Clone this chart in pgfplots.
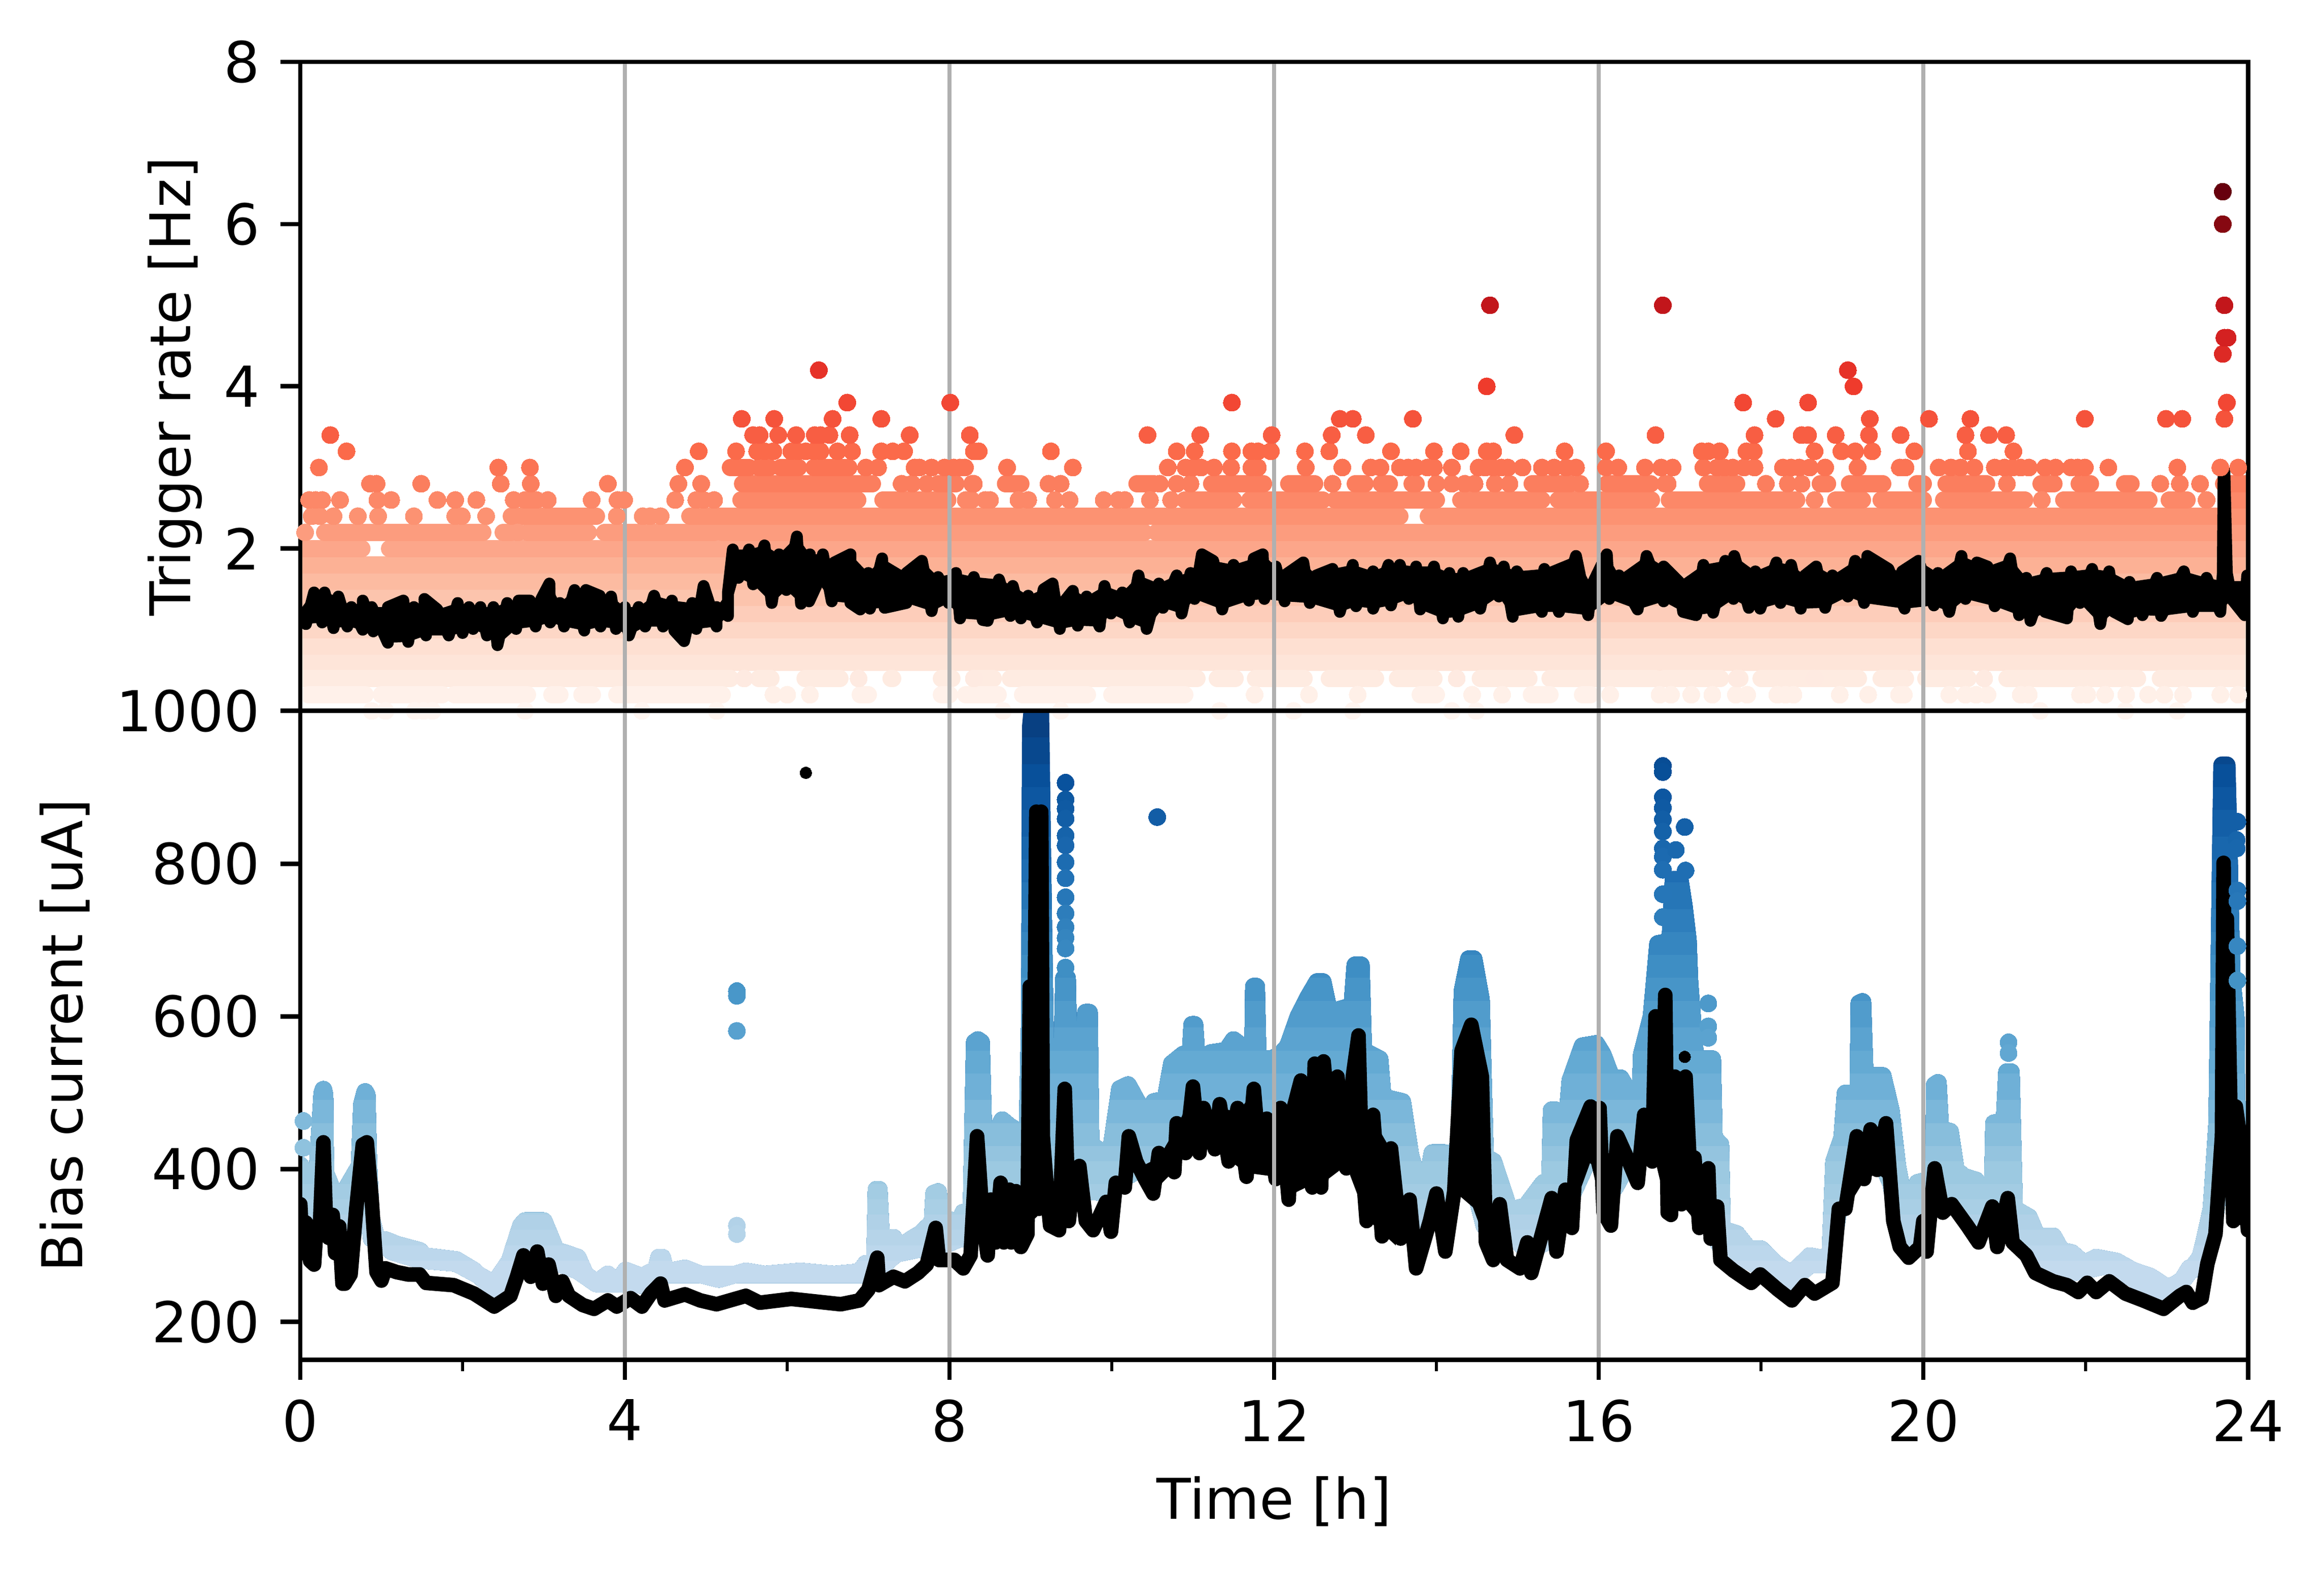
\documentclass[border=0pt]{standalone}
\usepackage{fontspec}
\setmainfont{DejaVu Sans}
\usepackage{pgfplots}
\usepackage{pgfplotstable}
\pgfplotsset{compat=1.18}
\definecolor{gridc}{HTML}{B0B0B0}
\definecolor{r00}{HTML}{FFF5F0}\definecolor{r02}{HTML}{FFF1EA}\definecolor{r04}{HTML}{FEEBE1}
\definecolor{r06}{HTML}{FEE5D9}\definecolor{r08}{HTML}{FEE0D2}\definecolor{r10}{HTML}{FDD7C6}
\definecolor{r12}{HTML}{FDCDBA}\definecolor{r14}{HTML}{FCC4AD}\definecolor{r16}{HTML}{FCBBA1}
\definecolor{r18}{HTML}{FCB195}\definecolor{r20}{HTML}{FCA68A}\definecolor{r22}{HTML}{FC9C7E}
\definecolor{r24}{HTML}{FC9272}\definecolor{r26}{HTML}{FC8868}\definecolor{r28}{HTML}{FB7E5E}
\definecolor{r30}{HTML}{FB7454}
\pgfplotsset{
  colormap={MyReds}{rgb255=(255,245,240) rgb255=(254,224,210) rgb255=(252,187,161) rgb255=(252,146,114) rgb255=(251,106,74) rgb255=(239,59,44) rgb255=(203,24,29) rgb255=(165,15,21) rgb255=(103,0,13)},
  colormap={MyBlues}{rgb255=(247,251,255) rgb255=(222,235,247) rgb255=(198,219,239) rgb255=(158,202,225) rgb255=(107,174,214) rgb255=(66,146,198) rgb255=(33,113,181) rgb255=(8,81,156) rgb255=(8,48,107)},
  panel/.style={
    scale only axis, width=346.9pt, height=115.63pt,
    xmin=0, xmax=24, axis on top, clip=true,
    xtick={0,4,8,12,16,20,24},
    xmajorgrids, grid style={color=gridc, line width=0.8bp},
    axis line style={line width=0.8bp},
    tick align=outside, tick pos=left,
    major tick length=3.5bp, minor tick length=2bp,
    every tick/.style={black, line width=0.8bp},
    minor tick style={black, line width=0.6bp},
    tick label style={font=\fontsize{10.04}{12}\selectfont},
    label style={font=\fontsize{10.04}{12}\selectfont},
    /pgf/number format/assume math mode=true,
    /pgf/number format/1000 sep={},
    yticklabel style={inner sep=0pt, xshift=-3.5bp},
    unbounded coords=jump,
  },
  dots/.style={scatter, only marks, mark=*, mark size=1.53pt, point meta=y,
    mark options={line width=0pt},
    scatter/use mapped color={draw=mapped color, fill=mapped color}},
}
\newcommand\seg[4]{\addplot[color=#1, line width=3.06pt, line cap=round] coordinates {(#3,#2)(#4,#2)};}
\newcommand\bluelayer[4]{\definecolor{b#1}{RGB}{#2,#3,#4}%
  \addplot[fill=b#1, draw=b#1, line width=3.06pt, line join=round,
    execute at begin plot visualization={\clip (axis cs:-1,100) rectangle (axis cs:25,#1);}]
    table[x index=0, y index=1] {\bluepoly} --cycle;}
\pgfplotstableread{
h v
0 405
0.13 376
0.2 380
0.27 499
0.285 504
0.30 497
0.31 395
0.39 374
0.50 362
0.73 404
0.76 485
0.80 501
0.82 497
0.84 410
0.88 309
1.05 307
1.19 301
1.47 293
1.53 286
1.92 281
2.14 267
2.39 242
2.56 273
2.72 326
2.77 332
2.98 332
3.0 332
3.09 309
3.15 293
3.26 290
3.42 284
3.51 262
3.65 251
3.79 262
3.9 251
4.01 267
4.21 259
4.32 265
4.38 265
4.42 284
4.46 284
4.5 265
4.74 270
4.93 262
5.16 256
5.49 266
5.72 262
6.16 266
6.58 262
6.89 265
6.97 276
7.08 276
7.1 373
7.13 373
7.16 307
7.31 310
7.4 298
7.53 308
7.64 315
7.72 323
7.79 330
7.81 368
7.86 370
7.9 337
8.12 329
8.17 343
8.27 345
8.31 566
8.35 569
8.39 566
8.42 441
8.54 441
8.65 464
8.74 456
8.85 449
8.96 449
8.99 600
9.0 980
9.03 1015
9.12 1015
9.14 850
9.16 700
9.18 560
9.22 505
9.3 505
9.38 510
9.41 650
9.45 650
9.47 545
9.56 544
9.65 544
9.68 605
9.72 605
9.74 432
9.85 424
9.95 424
10.0 432
10.1 505
10.2 510
10.33 485
10.46 474
10.52 488
10.66 491
10.74 538
10.88 550
10.97 552
10.99 589
11.02 589
11.05 541
11.22 552
11.41 555
11.5 569
11.6 561
11.74 561
11.75 639
11.78 639
11.8 544
11.97 544
12.08 550
12.17 561
12.3 600
12.42 625
12.53 645
12.6 645
12.68 605
12.88 611
12.96 611
13.0 667
13.07 667
13.1 555
13.3 544
13.34 494
13.58 488
13.68 418
13.78 382
13.88 379
13.95 421
14.1 421
14.16 379
14.2 421
14.28 420
14.32 633
14.4 675
14.46 675
14.55 622
14.6 416
14.7 410
14.9 346
15.1 351
15.32 382
15.4 385
15.42 477
15.47 477
15.52 438
15.58 430
15.65 516
15.8 561
15.97 564
16.05 550
16.16 519
16.27 519
16.38 499
16.5 455
16.53 550
16.65 600
16.73 695
16.88 698
16.92 779
17.0 779
17.05 745
17.1 700
17.12 644
17.2 533
17.27 522
17.3 544
17.4 544
17.42 441
17.5 432
17.52 321
17.7 315
17.85 295
18.0 295
18.18 276
18.37 262
18.6 286
18.85 281
18.9 410
19.0 441
19.04 499
19.2 499
19.21 617
19.25 619
19.28 522
19.5 522
19.6 477
19.68 404
19.75 365
19.85 349
19.93 382
20.04 385
20.13 388
20.14 510
20.18 513
20.21 452
20.33 449
20.4 399
20.5 390
20.65 385
20.68 360
20.8 354
20.85 354
20.87 460
21.0 463
21.03 527
21.08 527
21.12 348
21.3 337
21.4 312
21.6 312
21.7 293
21.83 290
21.98 276
22.13 284
22.38 279
22.58 267
22.8 259
23.0 245
23.17 251
23.28 270
23.38 270
23.47 309
23.55 348
23.62 460
23.65 700
23.68 929
23.74 929
23.77 800
23.8 650
23.85 600
23.86 480
24 477
24 343
23.93 370
23.74 450
23.6 343
23.43 287
23.21 256
22.96 239
22.71 248
22.32 275
21.82 264
21.54 275
21.27 292
21.04 343
20.71 331
20.43 354
20.16 382
19.99 315
19.82 309
19.71 320
19.6 382
19.43 421
19.16 415
18.99 370
18.85 275
18.6 275
18.38 253
18.21 264
17.93 275
17.71 287
17.54 292
17.38 320
17.21 382
16.99 382
16.82 454
16.6 426
16.46 426
16.2 376
15.98 438
15.64 359
15.42 309
15.14 292
14.89 315
14.59 326
14.31 443
13.81 309
13.53 348
13.19 370
12.92 426
12.08 421
11.63 432
11.24 454
10.74 421
10.52 393
10.41 404
9.85 370
9.18 376
8.74 343
8.46 326
8.21 309
8.12 309
7.89 298
7.61 295
7.34 289
7.06 262
6.89 262
6.16 262
5.49 262
4.82 262
4.49 262
4.21 248
3.9 250
3.65 250
3.42 267
3.15 278
2.92 292
2.7 298
2.39 250
1.92 277
1.47 281
1.13 292
0.94 309
0.8 365
0.6 298
0.46 320
0.3 354
0.13 309
0 320
}\bluepoly
\begin{document}
\begin{tikzpicture}
\path[use as bounding box] (-53.48pt,-37.58pt) rectangle (360.45pt,242.28pt);
% ---------------- upper panel
\begin{axis}[panel, at={(0pt,115.63pt)}, anchor=south west,
  ymin=0, ymax=8, ytick={2,4,6,8}, xticklabels={}, 
  xtick style={draw=none},
  ylabel={Trigger rate [Hz]},
  every axis y label/.style={at={(axis description cs:-0.0643,0.5)}, rotate=90, anchor=center},
  colormap name=MyReds, point meta min=0, point meta max=6.4]
\seg{r06}{0.6}{0}{24}
\seg{r08}{0.8}{0}{24}
\seg{r10}{1.0}{0}{24}
\seg{r12}{1.2}{0}{24}
\seg{r14}{1.4}{0}{24}
\seg{r16}{1.6}{0}{24}
\seg{r18}{1.8}{0}{24}
\seg{r20}{2.0}{0}{0.76}\seg{r20}{2.0}{1.1}{24}
\seg{r22}{2.2}{0.3}{2.25}\seg{r22}{2.2}{2.5}{2.6}\seg{r22}{2.2}{2.8}{3.55}\seg{r22}{2.2}{3.75}{5.1}\seg{r22}{2.2}{5.2}{10.4}\seg{r22}{2.2}{10.55}{24}
\seg{r24}{2.4}{2.6}{3.65}\seg{r24}{2.4}{4.8}{13.55}\seg{r24}{2.4}{13.9}{24}
\seg{r26}{2.6}{5.43}{6.87}\seg{r26}{2.6}{7.18}{7.98}\seg{r26}{2.6}{10.9}{11.5}\seg{r26}{2.6}{11.7}{12.6}\seg{r26}{2.6}{12.75}{14.0}\seg{r26}{2.6}{14.3}{15.3}\seg{r26}{2.6}{15.5}{16.65}\seg{r26}{2.6}{16.87}{18.44}\seg{r26}{2.6}{18.92}{19.25}\seg{r26}{2.6}{19.48}{20.0}\seg{r26}{2.6}{20.25}{21.25}\seg{r26}{2.6}{21.73}{22.78}\seg{r26}{2.6}{23.03}{23.25}\seg{r26}{2.6}{23.75}{24}
\seg{r28}{2.8}{5.45}{7.05}\seg{r28}{2.8}{7.86}{8.08}\seg{r28}{2.8}{8.69}{8.88}\seg{r28}{2.8}{10.31}{10.52}\seg{r28}{2.8}{11.23}{11.87}\seg{r28}{2.8}{12.18}{12.5}\seg{r28}{2.8}{13.0}{13.12}\seg{r28}{2.8}{13.32}{13.42}\seg{r28}{2.8}{13.7}{13.75}\seg{r28}{2.8}{15.18}{15.65}\seg{r28}{2.8}{16.1}{16.64}\seg{r28}{2.8}{17.34}{17.7}\seg{r28}{2.8}{18.73}{18.82}\seg{r28}{2.8}{19.09}{19.5}\seg{r28}{2.8}{19.92}{20.0}\seg{r28}{2.8}{20.28}{20.78}\seg{r28}{2.8}{21.45}{21.61}\seg{r28}{2.8}{21.92}{22.06}\seg{r28}{2.8}{22.48}{22.56}\seg{r28}{2.8}{23.7}{24}
\seg{r30}{3.0}{5.3}{5.53}\seg{r30}{3.0}{5.65}{5.78}\seg{r30}{3.0}{5.92}{6.14}\seg{r30}{3.0}{6.33}{6.76}
\seg{r04}{0.4}{0}{5.3}\seg{r04}{0.4}{5.65}{5.8}\seg{r04}{0.4}{6.22}{6.65}\seg{r04}{0.4}{7.28}{7.3}\seg{r04}{0.4}{7.9}{8.03}\seg{r04}{0.4}{8.3}{8.54}\seg{r04}{0.4}{8.75}{11.05}\seg{r04}{0.4}{11.3}{11.52}\seg{r04}{0.4}{11.77}{12.37}\seg{r04}{0.4}{12.68}{13.25}\seg{r04}{0.4}{13.52}{13.97}\seg{r04}{0.4}{14.54}{15.14}\seg{r04}{0.4}{15.4}{16.7}\seg{r04}{0.4}{16.81}{17.5}\seg{r04}{0.4}{17.7}{17.74}\seg{r04}{0.4}{18}{19.2}\seg{r04}{0.4}{19.48}{19.78}\seg{r04}{0.4}{20.03}{20.55}\seg{r04}{0.4}{21.03}{22.64}\seg{r04}{0.4}{22.92}{24}
\seg{r02}{0.2}{0.1}{0.8}\seg{r02}{0.2}{1.0}{1.75}\seg{r02}{0.2}{1.9}{2.8}\seg{r02}{0.2}{3.1}{3.2}\seg{r02}{0.2}{3.47}{3.6}\seg{r02}{0.2}{3.9}{5.2}\seg{r02}{0.2}{6.9}{7.0}\seg{r02}{0.2}{7.9}{8.0}\seg{r02}{0.2}{8.2}{8.6}\seg{r02}{0.2}{8.9}{9.7}\seg{r02}{0.2}{10.0}{10.9}\seg{r02}{0.2}{13.8}{14.0}\seg{r02}{0.2}{15.17}{15.4}\seg{r02}{0.2}{15.8}{15.9}
\addplot[dots] coordinates {
(0.88,0)(1.05,0)(1.41,0)(1.52,0)(1.63,0)(2.77,0)(4.21,0)(5.13,0)(8.66,0)(9.37,0)(11.33,0)(12.24,0)(12.97,0)(14.19,0)(14.49,0)(21.44,0)(22.49,0)(23.13,0)
(5.83,0.2)(6.0,0.2)(6.28,0.2)(11.76,0.2)(12.43,0.2)(13.03,0.2)(14.44,0.2)(14.81,0.2)(16.14,0.2)(16.75,0.2)(16.89,0.2)(17.14,0.2)(17.4,0.2)(17.69,0.2)(17.83,0.2)(18.2,0.2)(18.3,0.2)(18.4,0.2)(18.97,0.2)(19.32,0.2)(19.7,0.2)(19.76,0.2)(20.32,0.2)(20.52,0.2)(20.65,0.2)(20.79,0.2)(21.2,0.2)(21.3,0.2)(21.93,0.2)(22.02,0.2)(22.24,0.2)(22.5,0.2)(22.77,0.2)(22.97,0.2)(23.2,0.2)(23.66,0.2)(23.88,0.2)
(5.47,0.4)(6.88,0.4)(8.3,0.4)(14.25,0.4)(17.7,0.4)(18.66,0.4)(20.75,0.4)
(0.06,2.2)(2.68,2.2)
(0.14,2.4)(0.24,2.4)(0.41,2.4)(0.71,2.4)(0.96,2.4)(1.4,2.4)(1.91,2.4)(1.99,2.4)(2.29,2.4)(3.9,2.4)(4.22,2.4)(4.31,2.4)(4.44,2.4)
(0.11,2.6)(0.19,2.6)(0.27,2.6)(0.49,2.6)(0.95,2.6)(1.12,2.6)(1.69,2.6)(1.91,2.6)(2.17,2.6)(2.63,2.6)(2.77,2.6)(2.84,2.6)(2.91,2.6)(3.05,2.6)(3.59,2.6)(3.91,2.6)(3.99,2.6)(4.62,2.6)(4.88,2.6)(4.97,2.6)(5.1,2.6)(8.2,2.6)(8.27,2.6)(8.44,2.6)(8.5,2.6)(8.85,2.6)(8.97,2.6)(9.3,2.6)(9.48,2.6)(9.9,2.6)(10.08,2.6)(10.16,2.6)(10.47,2.6)(10.73,2.6)(18.66,2.6)(21.46,2.6)(23.49,2.6)
(0.86,2.8)(0.94,2.8)(1.49,2.8)(2.47,2.8)(2.84,2.8)(3.79,2.8)(4.66,2.8)(4.94,2.8)(7.41,2.8)(7.54,2.8)(7.72,2.8)(8.28,2.8)(8.3,2.8)(9.22,2.8)(9.37,2.8)(10.59,2.8)(10.8,2.8)(10.97,2.8)(12.72,2.8)(14.0,2.8)(14.19,2.8)(14.35,2.8)(14.47,2.8)(14.72,2.8)(14.9,2.8)(15.77,2.8)(16.82,2.8)(16.85,2.8)(18.06,2.8)(18.33,2.8)(18.5,2.8)(21.03,2.8)(22.92,2.8)(23.16,2.8)(23.41,2.8)
(0.23,3.0)(2.44,3.0)(2.83,3.0)(4.74,3.0)(6.97,3.0)(7.12,3.0)(7.57,3.0)(7.63,3.0)(7.78,3.0)(7.94,3.0)(8.05,3.0)(8.13,3.0)(8.19,3.0)(8.71,3.0)(9.52,3.0)(10.69,3.0)(10.91,3.0)(11.0,3.0)(11.1,3.0)(11.26,3.0)(11.47,3.0)(11.72,3.0)(11.8,3.0)(12.39,3.0)(12.84,3.0)(13.19,3.0)(13.31,3.0)(13.55,3.0)(13.65,3.0)(13.75,3.0)(13.89,3.0)(13.97,3.0)(14.19,3.0)(14.52,3.0)(14.6,3.0)(14.7,3.0)(14.8,3.0)(14.88,3.0)(15.06,3.0)(15.3,3.0)(15.45,3.0)(15.6,3.0)(15.72,3.0)(16.09,3.0)(16.24,3.0)(16.57,3.0)(16.77,3.0)(16.91,3.0)(17.29,3.0)(17.46,3.0)(17.55,3.0)(17.65,3.0)(17.79,3.0)(17.92,3.0)(18.27,3.0)(18.37,3.0)(18.47,3.0)(18.6,3.0)(18.79,3.0)(19.19,3.0)(19.71,3.0)(19.78,3.0)(20.19,3.0)(20.34,3.0)(20.46,3.0)(20.63,3.0)(20.88,3.0)(21,3.0)(21.1,3.0)(21.2,3.0)(21.3,3.0)(21.5,3.0)(21.63,3.0)(21.82,3.0)(21.9,3.0)(21.99,3.0)(22.28,3.0)(23.13,3.0)(23.66,3.0)(23.88,3.0)
(0.57,3.2)(4.91,3.2)(5.37,3.2)(5.63,3.2)(5.72,3.2)(5.83,3.2)(6.05,3.2)(6.13,3.2)(6.23,3.2)(6.33,3.2)(6.41,3.2)(6.62,3.2)(6.8,3.2)(7.16,3.2)(7.3,3.2)(7.44,3.2)(8.3,3.2)(8.36,3.2)(9.25,3.2)(10.8,3.2)(11.02,3.2)(11.48,3.2)(11.72,3.2)(11.8,3.2)(11.96,3.2)(12.38,3.2)(12.68,3.2)(13.44,3.2)(13.97,3.2)(14.3,3.2)(14.62,3.2)(14.7,3.2)(15.58,3.2)(16.09,3.2)(17.27,3.2)(17.35,3.2)(17.49,3.2)(17.82,3.2)(17.91,3.2)(18.66,3.2)(18.99,3.2)(19.16,3.2)(19.37,3.2)(19.89,3.2)(20.55,3.2)(21.11,3.2)
(0.37,3.4)(5.58,3.4)(5.66,3.4)(5.89,3.4)(6.11,3.4)(6.34,3.4)(6.41,3.4)(6.52,3.4)(6.77,3.4)(7.51,3.4)(8.25,3.4)(10.44,3.4)(11.09,3.4)(11.97,3.4)(12.71,3.4)(13.13,3.4)(14.96,3.4)(16.7,3.4)(17.92,3.4)(18.5,3.4)(18.58,3.4)(18.92,3.4)(19.33,3.4)(19.72,3.4)(20.52,3.4)(20.81,3.4)(21.02,3.4)
(5.44,3.6)(5.84,3.6)(6.56,3.6)(7.16,3.6)(12.81,3.6)(12.97,3.6)(13.71,3.6)(18.18,3.6)(19.34,3.6)(20.07,3.6)(20.58,3.6)(21.99,3.6)(22.99,3.6)(23.19,3.6)(23.71,3.6)
(6.74,3.8)(8.01,3.8)(11.48,3.8)(17.78,3.8)(18.58,3.8)(23.74,3.8)
(14.62,4.0)(19.14,4.0)(6.39,4.2)(19.07,4.2)(23.69,4.4)(23.71,4.6)(23.75,4.6)
(14.66,5.0)(16.79,5.0)(23.71,5.0)(23.69,6.0)(23.69,6.4)
};
% black: envelope fill, then the noisy trace
\addplot[fill=black, draw=none] coordinates {
(0,1.25)(.16,1.46)(.3,1.46)(.47,1.41)(.63,1.28)(.77,1.36)(.88,1.28)(1.08,1.28)(1.27,1.36)(1.4,1.28)(1.53,1.38)(1.69,1.25)(1.94,1.33)(2.08,1.28)(2.22,1.28)(2.38,1.28)(2.55,1.33)(2.69,1.36)(2.83,1.36)(2.97,1.38)(3.07,1.57)(3.2,1.33)(3.38,1.49)(3.52,1.49)(3.69,1.42)(3.83,1.41)(4.0,1.28)(4.17,1.28)(4.36,1.42)(4.58,1.36)(4.83,1.33)(4.97,1.54)(5.13,1.28)(5.27,1.46)(5.33,1.99)(5.53,1.99)(5.72,2.04)(5.9,1.93)(6.12,2.15)(6.28,1.93)(6.44,1.93)(6.58,1.83)(6.78,1.93)(7.0,1.7)(7.17,1.88)(7.47,1.7)(7.66,1.85)(7.86,1.65)(8.08,1.7)(8.3,1.65)(8.61,1.62)(8.78,1.54)(8.97,1.42)(9.16,1.5)(9.27,1.57)(9.4,1.33)(9.52,1.48)(9.69,1.41)(9.91,1.54)(10.13,1.46)(10.33,1.67)(10.58,1.57)(10.8,1.67)(10.97,1.7)(11.11,1.93)(11.25,1.85)(11.5,1.8)(11.75,1.88)(11.86,1.93)(12.02,1.78)(12.13,1.67)(12.36,1.83)(12.52,1.67)(12.72,1.75)(12.97,1.8)(13.22,1.72)(13.41,1.8)(13.55,1.8)(13.75,1.78)(13.97,1.78)(14.16,1.7)(14.33,1.7)(14.66,1.83)(14.83,1.78)(14.99,1.72)(15.33,1.75)(15.72,1.91)(15.91,1.54)(16.1,1.93)(16.25,1.67)(16.59,1.91)(16.8,1.78)(16.99,1.59)(17.29,1.8)(17.56,1.85)(17.67,1.91)(17.93,1.72)(18.19,1.83)(18.37,1.8)(18.54,1.67)(18.68,1.78)(18.88,1.67)(19.16,1.85)(19.31,1.91)(19.57,1.75)(19.74,1.72)(19.94,1.85)(20.18,1.7)(20.47,1.91)(20.66,1.83)(20.79,1.78)(21.07,1.88)(21.27,1.64)(21.52,1.7)(21.82,1.72)(22.08,1.75)(22.29,1.72)(22.54,1.59)(22.88,1.64)(23.21,1.72)(23.49,1.64)(23.68,1.6)(24,1.6)
(24,1.2)(23.96,1.18)(23.8,1.38)(23.66,1.22)(23.32,1.22)(22.93,1.17)(22.7,1.18)(22.52,1.13)(22.35,1.22)(22.18,1.07)(21.93,1.33)(21.77,1.14)(21.5,1.22)(21.32,1.11)(21.18,1.18)(20.88,1.29)(20.52,1.38)(20.32,1.22)(20.13,1.3)(19.77,1.26)(19.27,1.33)(19.07,1.41)(18.79,1.27)(18.49,1.26)(18.24,1.33)(17.99,1.26)(17.85,1.27)(17.66,1.38)(17.41,1.21)(17.2,1.18)(17.04,1.22)(16.8,1.35)(16.48,1.25)(16.13,1.38)(15.87,1.18)(15.51,1.22)(15.3,1.22)(14.94,1.16)(14.77,1.41)(14.54,1.26)(14.27,1.16)(14.08,1.14)(13.8,1.25)(13.66,1.38)(13.44,1.3)(13.22,1.26)(13.01,1.29)(12.81,1.22)(12.44,1.33)(12.13,1.35)(11.88,1.38)(11.69,1.36)(11.36,1.25)(11.02,1.38)(10.86,1.2)(10.63,1.27)(10.43,1.01)(10.22,1.09)(9.99,1.2)(9.85,1.04)(9.58,1.05)(9.36,1.01)(9.08,1.09)(8.88,1.14)(8.75,1.17)(8.47,1.11)(8.41,1.12)(8.13,1.14)(7.99,1.33)(7.78,1.23)(7.47,1.33)(7.2,1.27)(7.02,1.26)(6.9,1.25)(6.78,1.33)(6.55,1.35)(6.38,1.59)(6.27,1.35)(6.17,1.32)(5.99,1.49)(5.81,1.33)(5.58,1.56)(5.4,1.64)(5.27,1.17)(5.13,1.04)(4.88,1.01)(4.73,.86)(4.61,.99)(4.47,1.04)(4.25,1.04)(4.05,.93)(3.89,1.01)(3.7,1.04)(3.5,.99)(3.25,1.04)(3.08,1.09)(2.9,1.04)(2.66,1.01)(2.43,.81)(2.3,.93)(2.13,1.01)(2.0,.96)(1.83,.93)(1.55,.93)(1.33,.85)(1.08,.84)(.9,.98)(.77,1.0)(.58,1.04)(.41,1.02)(.27,1.09)(.07,1.07)(0,1.1)
} --cycle;
\addplot[black, line width=2.1pt, line cap=round, line join=round] coordinates {
(0,1.2)(0.07,1.07)(0.17,1.46)(0.27,1.09)(0.3,1.46)(0.41,1.02)(0.47,1.41)(0.58,1.04)(0.63,1.28)(0.77,1.0)(0.77,1.36)(0.9,0.98)(0.88,1.28)(1.08,0.84)(1.08,1.28)(1.27,1.36)(1.33,0.85)(1.4,1.28)(1.55,0.93)(1.53,1.38)(1.69,1.25)(1.83,0.93)(1.94,1.33)(2.0,0.96)(2.08,1.28)(2.13,1.01)(2.22,1.28)(2.3,0.93)(2.38,1.28)(2.43,0.81)(2.55,1.33)(2.66,1.01)(2.69,1.36)(2.83,1.36)(2.9,1.04)(2.97,1.38)(3.07,1.57)(3.08,1.09)(3.2,1.33)(3.25,1.04)(3.38,1.49)(3.5,0.99)(3.52,1.49)(3.69,1.42)(3.7,1.04)(3.83,1.41)(3.89,1.01)(4.0,1.28)(4.05,0.93)(4.17,1.28)(4.25,1.04)(4.36,1.42)(4.47,1.04)(4.58,1.36)(4.61,0.99)(4.73,0.86)(4.83,1.33)(4.88,1.01)(4.97,1.54)(5.13,1.04)(5.13,1.28)(5.27,1.17)(5.27,1.46)(5.33,1.99)(5.4,1.64)(5.53,1.99)(5.58,1.56)(5.72,2.04)(5.81,1.33)(5.9,1.93)(5.99,1.49)(6.12,2.15)(6.17,1.32)(6.28,1.93)(6.27,1.35)(6.38,1.59)(6.44,1.93)(6.55,1.35)(6.58,1.83)(6.78,1.93)(6.78,1.33)(6.9,1.25)(7.0,1.7)(7.02,1.26)(7.17,1.88)(7.2,1.27)(7.47,1.33)(7.47,1.7)(7.66,1.85)(7.78,1.23)(7.86,1.65)(7.99,1.33)(8.08,1.7)(8.13,1.14)(8.3,1.65)(8.41,1.12)
(8.47,1.11)(8.61,1.62)(8.75,1.17)(8.78,1.54)(8.88,1.14)(8.97,1.42)(9.08,1.09)(9.16,1.5)(9.27,1.57)(9.36,1.01)(9.4,1.33)(9.52,1.48)(9.58,1.05)(9.69,1.41)(9.85,1.04)(9.91,1.54)(9.99,1.2)(10.13,1.46)(10.22,1.09)(10.33,1.67)(10.43,1.01)(10.58,1.57)(10.63,1.27)(10.8,1.67)(10.86,1.2)(10.97,1.7)(11.02,1.38)(11.11,1.93)(11.25,1.85)(11.36,1.25)(11.5,1.8)(11.69,1.36)(11.75,1.88)(11.86,1.93)(11.88,1.38)(12.02,1.78)(12.13,1.35)(12.13,1.67)(12.36,1.83)(12.44,1.33)(12.52,1.67)(12.72,1.75)(12.81,1.22)(12.97,1.8)(13.01,1.29)(13.22,1.72)(13.22,1.26)(13.41,1.8)(13.44,1.3)(13.55,1.8)(13.66,1.38)(13.75,1.78)(13.8,1.25)(13.97,1.78)(14.08,1.14)(14.16,1.7)(14.27,1.16)(14.33,1.7)(14.54,1.26)(14.66,1.83)(14.77,1.41)(14.83,1.78)(14.94,1.16)(14.99,1.72)(15.3,1.22)(15.33,1.75)(15.51,1.22)(15.72,1.91)(15.87,1.18)(15.91,1.54)(16.1,1.93)(16.13,1.38)(16.25,1.67)(16.48,1.25)(16.59,1.91)(16.8,1.35)(16.8,1.78)
(16.99,1.59)(17.04,1.22)(17.2,1.18)(17.29,1.8)(17.41,1.21)(17.56,1.85)(17.66,1.38)(17.67,1.91)(17.85,1.27)(17.93,1.72)(17.99,1.26)(18.19,1.83)(18.24,1.33)(18.37,1.8)(18.49,1.26)(18.54,1.67)(18.68,1.78)(18.79,1.27)(18.88,1.67)(19.07,1.41)(19.16,1.85)(19.27,1.33)(19.31,1.91)(19.57,1.75)(19.77,1.26)(19.74,1.72)(19.94,1.85)(20.13,1.3)(20.18,1.7)(20.32,1.22)(20.47,1.91)(20.52,1.38)(20.66,1.83)(20.79,1.78)(20.88,1.29)(21.07,1.88)(21.18,1.18)(21.27,1.64)(21.32,1.11)(21.52,1.7)(21.5,1.22)(21.77,1.14)(21.82,1.72)(21.93,1.33)(22.08,1.75)(22.18,1.07)(22.29,1.72)(22.35,1.22)(22.52,1.13)(22.54,1.59)(22.7,1.18)(22.88,1.64)(22.93,1.17)(23.21,1.72)(23.32,1.22)(23.49,1.64)(23.66,1.22)(23.69,1.7)(23.7,2.96)(23.71,2.96)(23.74,1.7)(23.8,1.38)(23.96,1.18)(23.99,1.67)(24,1.2)};
\end{axis}
% ---------------- lower panel: blue layers in an axis of their own, since each layer clips
\begin{axis}[panel, hide axis, at={(0pt,0pt)}, anchor=south west,
  ymin=150, ymax=1000]
\bluelayer{1020}{8}{64}{130}
\bluelayer{965}{8}{72}{142}
\bluelayer{930}{8}{80}{154}
\bluelayer{900}{13}{87}{161}
\bluelayer{870}{19}{95}{167}
\bluelayer{835}{25}{103}{173}
\bluelayer{805}{31}{110}{179}
\bluelayer{775}{38}{118}{183}
\bluelayer{740}{46}{126}{188}
\bluelayer{710}{54}{134}{192}
\bluelayer{680}{62}{142}{196}
\bluelayer{650}{71}{149}{200}
\bluelayer{620}{81}{156}{204}
\bluelayer{585}{91}{163}{208}
\bluelayer{555}{100}{170}{211}
\bluelayer{525}{111}{176}{215}
\bluelayer{490}{123}{183}{218}
\bluelayer{460}{136}{190}{220}
\bluelayer{430}{148}{196}{223}
\bluelayer{410}{156}{201}{225}
\bluelayer{380}{163}{204}{227}
\bluelayer{360}{169}{207}{229}
\bluelayer{340}{176}{209}{231}
\bluelayer{320}{182}{212}{233}
\bluelayer{300}{188}{215}{236}
\bluelayer{280}{195}{218}{238}
\end{axis}
\begin{axis}[panel, at={(0pt,0pt)}, anchor=south west,
  ymin=150, ymax=1000, ytick={200,400,600,800,1000},
  minor xtick={2,6,10,14,18,22},
  xlabel={Time [h]}, ylabel={Bias current [uA]},
  every axis y label/.style={at={(axis description cs:-0.121,0.5)}, rotate=90, anchor=center},
  every axis x label/.style={at={(axis description cs:0.5,-0.218)}, anchor=center},
  colormap name=MyBlues, point meta min=0, point meta max=1040]
\addplot[dots] coordinates {
(0.04,463)(0.04,428)(5.38,633)(5.38,627)(5.38,581)(5.38,326)(5.38,315)(10.56,861)
(9.43,906)(9.43,884)(9.43,872)(9.43,859)(9.43,837)(9.43,824)(9.43,802)(9.43,781)(9.43,756)(9.43,735)(9.43,717)(9.43,703)(9.43,689)(9.43,664)
(16.79,928)(16.79,920)(16.79,887)(16.79,873)(16.79,858)(16.79,842)(16.79,820)(16.79,809)(16.79,792)(16.79,760)(16.79,730)(17.06,848)(16.95,818)(17.07,791)
(17.35,617)(17.35,587)(17.35,572)(21.05,566)(21.05,552)
(23.87,855)(23.86,831)(23.86,820)(23.87,765)(23.87,751)(23.87,692)(23.87,647)
};
% black core pieces where the trace is dense
\addplot[fill=black, draw=none] coordinates {(8.5,350)(8.63,382)(8.74,373)(8.82,371)(8.9,320)(8.88,298)(8.67,304)(8.57,304)(8.5,320)} --cycle;
\addplot[fill=black, draw=none] coordinates {(8.99,639)(9.07,868)(9.13,868)(9.15,443)(9.2,350)(9.0,330)} --cycle;
\addplot[fill=black, draw=none] coordinates {(10.3,400)(10.58,415)(10.8,455)(11,500)(11.13,475)(11.33,480)(11.55,475)(11.75,500)(11.91,460)(12.08,475)(12.22,470)(12.33,510)(12.5,535)(12.61,535)(12.78,515)(12.97,515)(13.04,570)(13.1,420)(13.22,465)(13.44,425)(13.5,300)(13.14,335)(12.89,405)(12.58,380)(12.47,380)(12.18,365)(12.02,390)(11.66,395)(11.44,412)(11.27,428)(11.08,424)(10.91,424)(10.77,398)(10.51,370)} --cycle;
\addplot[fill=black, draw=none] coordinates {(14.22,371)(14.31,555)(14.43,589)(14.56,521)(14.61,304)(14.45,350)} --cycle;
\addplot[fill=black, draw=none] coordinates {(15.73,438)(15.9,482)(16.01,480)(16.05,343)(15.9,410)(15.73,360)} --cycle;
\addplot[fill=black, draw=none] coordinates {(16.62,420)(16.7,600)(16.82,628)(16.85,343)(16.7,410)} --cycle;
\addplot[fill=black, draw=none] coordinates {(16.94,521)(17.07,521)(17.18,415)(17.24,323)(17.13,340)(17.02,354)(16.94,340)} --cycle;
\addplot[fill=black, draw=none] coordinates {(18.96,348)(19.18,443)(19.35,452)(19.54,460)(19.6,380)(19.43,395)(19.27,385)(19.04,345)} --cycle;
\addplot[fill=black, draw=none] coordinates {(23.64,500)(23.70,801)(23.74,728)(23.79,480)(23.9,470)(24,430)(24,320)(23.82,332)(23.73,450)(23.6,315)} --cycle;
\addplot[black, line width=2.6pt, line cap=round, line join=round] coordinates {
(0,354)(0.03,290)(0.07,330)(0.12,280)(0.17,275)(0.2,325)(0.24,320)(0.285,435)(0.32,320)(0.35,310)(0.4,340)(0.43,290)(0.48,325)(0.52,250)(0.55,250)(0.62,262)(0.69,348)(0.77,432)(0.82,435)(0.88,360)(0.94,265)(1.0,254)(1.05,270)(1.19,265)(1.33,262)(1.47,262)(1.55,251)(1.89,248)(2.14,237)(2.39,220)(2.59,234)(2.67,259)(2.75,287)(2.84,259)(2.92,292)(2.99,250)(3.06,275)(3.15,234)(3.23,253)(3.31,234)(3.48,222)(3.62,217)(3.79,228)(3.9,220)(4.07,231)(4.21,220)(4.32,237)(4.44,250)(4.49,228)(4.74,236)(4.93,228)(5.13,223)(5.49,234)(5.66,225)(6.05,230)(6.66,223)(6.89,228)(7.0,242)(7.11,284)(7.13,248)(7.31,259)(7.45,253)(7.61,264)(7.72,275)(7.83,323)(7.87,281)(8.06,281)(8.17,270)(8.26,287)(8.34,443)(8.41,332)(8.47,287)
(8.51,360)(8.57,304)(8.63,382)(8.67,304)(8.74,373)(8.76,304)(8.82,371)(8.88,298)(8.96,315)(8.99,639)(9.03,348)(9.07,868)(9.1,348)(9.13,868)(9.15,443)(9.21,360)(9.24,326)(9.35,320)(9.42,505)(9.47,332)(9.54,399)(9.6,404)(9.68,332)(9.77,320)(9.93,357)(9.99,318)(10.05,382)(10.16,376)(10.21,443)(10.3,410)(10.41,387)(10.51,368)(10.58,421)(10.77,396)(10.8,460)(10.91,421)(11.0,508)(11.08,421)(11.13,480)(11.27,426)(11.33,485)(11.44,410)(11.55,480)(11.66,390)(11.75,505)(11.83,404)(11.91,466)(12.02,387)(12.08,480)(12.18,360)(12.22,471)(12.33,516)(12.47,376)(12.5,538)(12.58,376)(12.61,541)(12.72,415)(12.78,521)(12.89,401)(12.97,521)(13.04,575)(13.08,415)(13.14,332)(13.22,471)(13.33,312)(13.44,427)(13.56,309)(13.67,360)(13.75,270)(13.92,332)(14.0,368)(14.11,292)(14.22,371)(14.31,555)(14.43,589)(14.56,521)(14.61,304)(14.7,281)(14.78,354)(14.87,281)(15.03,270)(15.12,304)(15.17,264)(15.42,362)(15.48,292)(15.59,373)(15.67,323)(15.73,438)(15.9,482)(15.95,415)(16.01,480)(16.06,343)(16.15,326)(16.23,443)(16.37,410)(16.48,382)(16.56,471)(16.66,410)(16.7,600)(16.79,443)(16.82,628)(16.85,343)
(16.89,340)(16.94,521)(17.02,354)(17.07,521)(17.13,387)(17.18,415)(17.24,323)(17.35,401)(17.38,309)(17.46,351)(17.5,281)(17.66,267)(17.88,251)(17.99,262)(18.21,242)(18.38,228)(18.54,248)(18.66,237)(18.88,251)(18.96,348)(19.04,348)(19.18,443)(19.27,387)(19.35,452)(19.43,399)(19.54,460)(19.63,332)(19.71,298)(19.82,284)(19.96,298)(20,332)(20.04,292)(20.14,401)(20.24,343)(20.35,354)(20.54,326)(20.68,304)(20.85,351)(20.91,298)(21.04,362)(21.1,304)(21.27,287)(21.38,264)(21.6,253)(21.77,248)(21.91,239)(22.02,251)(22.13,239)(22.29,253)(22.49,237)(22.71,228)(22.96,217)(23.16,234)(23.24,239)(23.32,225)(23.43,231)(23.5,276)(23.6,315)(23.68,443)(23.70,801)(23.72,454)(23.74,728)(23.79,443)(23.82,332)(23.85,482)(23.93,421)(24,320)};
\addplot[only marks, mark=*, mark size=1.05pt, black, mark options={line width=0pt}] coordinates {(6.23,919)(17.06,547)};
\end{axis}
\end{tikzpicture}
\end{document}
